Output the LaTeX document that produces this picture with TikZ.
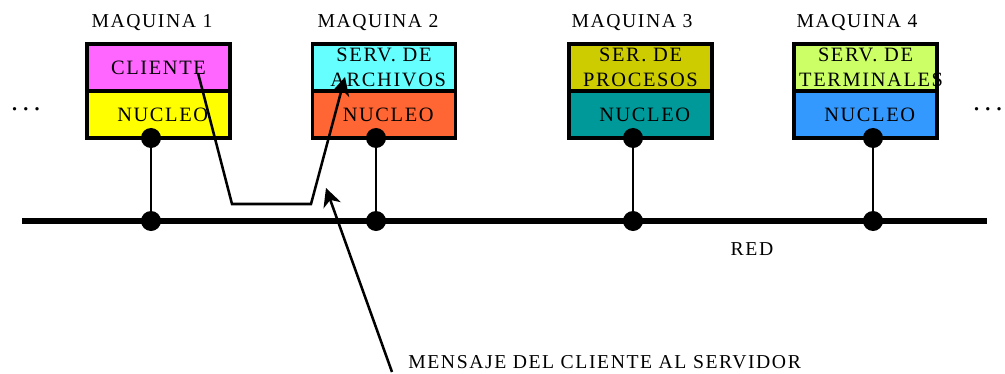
\documentclass[tikz,border=0pt]{standalone}
\usepackage{fontspec}
\setmainfont{Liberation Serif}[LetterSpace=8]
\usetikzlibrary{arrows.meta}
\usetikzlibrary{positioning}
\definecolor{clientecol}{HTML}{FF66FF}
\definecolor{archivoscol}{HTML}{66FFFF}
\definecolor{procesoscol}{HTML}{CCCC00}
\definecolor{terminalcol}{HTML}{CCFF66}
\definecolor{nucleouno}{HTML}{FFFF00}
\definecolor{nucleodos}{HTML}{FF6633}
\definecolor{nucleotres}{HTML}{009999}
\definecolor{nucleocuatro}{HTML}{3399FF}
\tikzset{circ/.style = {fill, circle, inner sep = 0, minimum size = 0.5cm}}
\tikzset{caja/.style = {draw, line width = 2.4pt, minimum width = 3.575cm, minimum height = 1.175cm, inner sep = 0, align = center, font = \fontsize{14.5}{17.5}\selectfont}}
\tikzset{rotulo/.style = {anchor = base, inner sep = 0, font = \fontsize{14}{17}\selectfont}}
\tikzset{puntos/.style = {anchor = base, inner sep = 0, font = \fontsize{20}{24}\selectfont}}
\tikzset{msj/.style = {line width = 1.8pt, -{Stealth[length = 13pt, width = 13pt, inset = 4pt]}}}

\begin{document}
\begin{tikzpicture}[x = 0.025cm, y = -0.025cm]
      \useasboundingbox (0, 0) rectangle (1005, 374);
      \node [rotulo] (maq1) at (152, 28) {MAQUINA 1};
      \node [rotulo] (maq2) at (378, 28) {MAQUINA 2};
      \node [rotulo] (maq3) at (632, 28) {MAQUINA 3};
      \node [rotulo] (maq4) at (857, 28) {MAQUINA 4};
      \node [caja, fill = clientecol] (cliente) at (158.5, 67.5) {CLIENTE};
      \node [caja, fill = nucleouno] (nucleo1) at (158.5, 114.5) {\hspace{6pt}NUCLEO};
      \node [caja, fill = archivoscol] (archivos) at (384, 67.5) {SERV. DE\\\hspace{6pt}ARCHIVOS};
      \node [caja, fill = nucleodos] (nucleo2) at (384, 114.5) {\hspace{6pt}NUCLEO};
      \node [caja, fill = procesoscol] (procesos) at (640.5, 67.5) {SER. DE\\PROCESOS};
      \node [caja, fill = nucleotres] (nucleo3) at (640.5, 114.5) {\hspace{6pt}NUCLEO};
      \node [caja, fill = terminalcol] (terminales) at (865.5, 67.5) {SERV. DE\\\makebox[0pt]{\hspace{8pt}TERMINALES}};
      \node [caja, fill = nucleocuatro] (nucleo4) at (865.5, 114.5) {\hspace{6pt}NUCLEO};
      \node [puntos] (puntosI) at (26, 111) {.\hspace{3pt}.\hspace{3pt}.};
      \node [puntos] (puntosD) at (988, 111) {.\hspace{3pt}.\hspace{3pt}.};
      % la red
      \coordinate (redI) at (22, 221);
      \coordinate (redD) at (987, 221);
      \draw [line width = 4.4pt] (redI) -- (redD);
      \node [rotulo] (red) at (752, 255) {RED};
      \node [circ] (k1) at (151, 138) {};
      \node [circ] (r1) at (151, 221) {};
      \node [circ] (k2) at (376, 138) {};
      \node [circ] (r2) at (376, 221) {};
      \node [circ] (k3) at (633, 138) {};
      \node [circ] (r3) at (633, 221) {};
      \node [circ] (k4) at (873, 138) {};
      \node [circ] (r4) at (873, 221) {};
      \draw [line width = 1.8pt] (k1) -- (r1);
      \draw [line width = 1.8pt] (k2) -- (r2);
      \draw [line width = 1.8pt] (k3) -- (r3);
      \draw [line width = 1.8pt] (k4) -- (r4);
      % el mensaje
      \coordinate (sale) at (198, 73);
      \coordinate (baja) at (232, 204);
      \coordinate (sube) at (311, 204);
      \coordinate (llega) at (345, 77);
      \draw [msj, line join = miter] (sale) -- (baja) -- (sube) -- (llega);
      \node [rotulo, anchor = base west] (mensaje) at (408, 368) {MENSAJE DEL CLIENTE AL SERVIDOR};
      \coordinate (pie) at (392, 372);
      \coordinate (punta) at (326, 188);
      \draw [msj] (pie) -- (punta);
    \end{tikzpicture}
\end{document}
